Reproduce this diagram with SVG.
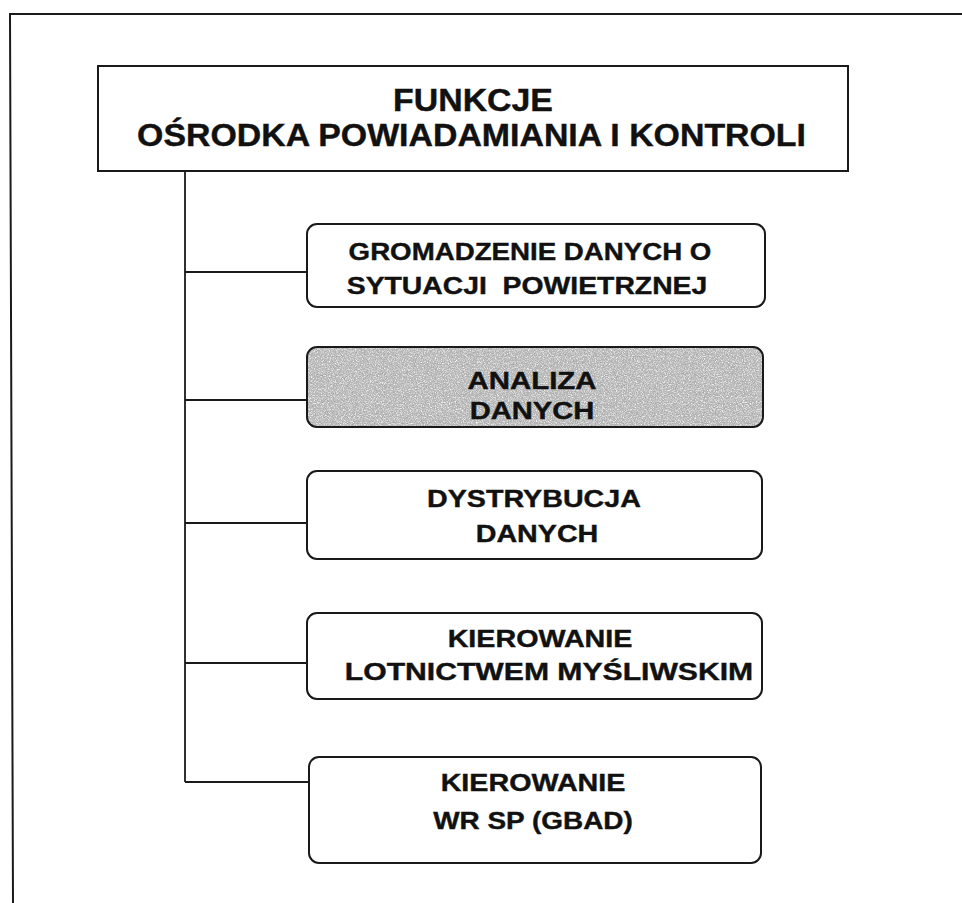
<svg xmlns="http://www.w3.org/2000/svg" width="962" height="903" viewBox="0 0 962 903">
<style>
  .frame{fill:none;stroke:#1a1a1a;stroke-width:2}
  .box{fill:#ffffff;stroke:#1a1a1a;stroke-width:2}
  .outline{fill:none;stroke:#1a1a1a;stroke-width:2}
  .conn{fill:none;stroke:#1a1a1a;stroke-width:1.8}
  .t{font-family:"Liberation Sans",Arial,sans-serif;font-weight:bold;fill:#111;stroke:#111;stroke-width:0.4;text-anchor:middle}
  .tt{font-size:30.5px}
  .tc{font-size:24.5px}
</style>
<defs>
  <filter id="lightgrain" x="0" y="0" width="1" height="1">
    <feTurbulence type="fractalNoise" baseFrequency="0.85" numOctaves="2" seed="7"/>
    <feColorMatrix type="matrix" values="0 0 0 0 1  0 0 0 0 1  0 0 0 0 1  2.4 0 0 0 -1.0"/>
    <feComposite in2="SourceAlpha" operator="in"/>
  </filter>
  <filter id="darkgrain" x="0" y="0" width="1" height="1">
    <feTurbulence type="fractalNoise" baseFrequency="0.9" numOctaves="2" seed="23"/>
    <feColorMatrix type="matrix" values="0 0 0 0 0.35  0 0 0 0 0.35  0 0 0 0 0.35  0 2.4 0 0 -1.1"/>
    <feComposite in2="SourceAlpha" operator="in"/>
  </filter>
</defs>
<rect width="962" height="903" fill="#ffffff"/>
<path class="frame" d="M 970 14 L 10 14 L 13 905"/>

<g id="connectors">
  <path class="conn" d="M 185 171 L 185 782"/>
  <path class="conn" d="M 185 272 L 307 272"/>
  <path class="conn" d="M 185 400 L 307 400"/>
  <path class="conn" d="M 185 523 L 307 523"/>
  <path class="conn" d="M 185 663 L 307 663"/>
  <path class="conn" d="M 185 782 L 309 782"/>
</g>

<g id="title">
  <rect class="box" x="98" y="66" width="750" height="105"/>
  <g transform="translate(473,0) scale(1.11,1)"><text class="t tt" x="0" y="111">FUNKCJE</text></g>
  <g transform="translate(471.5,0) scale(1.11,1)"><text class="t tt" x="0" y="146">OŚRODKA POWIADAMIANIA I KONTROLI</text></g>
</g>

<g id="gromadzenie">
  <rect class="box" x="307" y="224" width="458" height="83" rx="10"/>
  <g transform="translate(530,0) scale(1.13,1)"><text class="t tc" x="0" y="260">GROMADZENIE DANYCH O</text></g>
  <g transform="translate(527,0) scale(1.157,1)"><text class="t tc" x="0" y="294" xml:space="preserve">SYTUACJI  POWIETRZNEJ</text></g>
</g>

<g id="analiza">
  <rect x="307" y="347" width="456" height="80" rx="10" fill="#b8b8b8"/>
  <rect x="307" y="347" width="456" height="80" rx="10" fill="#000" filter="url(#lightgrain)"/>
  <rect x="307" y="347" width="456" height="80" rx="10" fill="#000" filter="url(#darkgrain)"/>
  <rect class="outline" x="307" y="347" width="456" height="80" rx="10"/>
  <g transform="translate(532,0) scale(1.2,1)"><text class="t tc" x="0" y="389">ANALIZA</text></g>
  <g transform="translate(532,0) scale(1.19,1)"><text class="t tc" x="0" y="419">DANYCH</text></g>
</g>

<g id="dystrybucja">
  <rect class="box" x="307" y="471" width="455" height="88" rx="10"/>
  <g transform="translate(534,0) scale(1.17,1)"><text class="t tc" x="0" y="507">DYSTRYBUCJA</text></g>
  <g transform="translate(537,0) scale(1.17,1)"><text class="t tc" x="0" y="542">DANYCH</text></g>
</g>

<g id="kierowanie-lotnictwem">
  <rect class="box" x="307" y="613" width="455" height="86" rx="10"/>
  <g transform="translate(540,0) scale(1.17,1)"><text class="t tc" x="0" y="647">KIEROWANIE</text></g>
  <g transform="translate(549,0) scale(1.23,1)"><text class="t tc" x="0" y="680">LOTNICTWEM MYŚLIWSKIM</text></g>
</g>

<g id="kierowanie-wr">
  <rect class="box" x="309" y="757" width="452" height="106" rx="10"/>
  <g transform="translate(533,0) scale(1.17,1)"><text class="t tc" x="0" y="791">KIEROWANIE</text></g>
  <g transform="translate(533,0) scale(1.14,1)"><text class="t tc" x="0" y="829">WR SP (GBAD)</text></g>
</g>
</svg>
